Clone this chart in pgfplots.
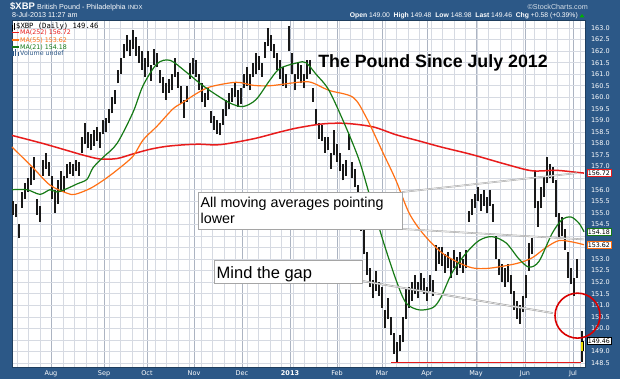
\documentclass[border=0pt]{standalone}
\usepackage{pgfplots}
\pgfplotsset{compat=1.18}
\usepackage{pgfplotstable}
\usepackage{fontspec}
\setmainfont{Liberation Sans}
\newfontfamily\djfont{DejaVu Sans}
\newfontfamily\djmono{DejaVu Sans Mono}
\definecolor{frame}{RGB}{44,88,135}
\definecolor{ma252}{RGB}{232,28,28}
\definecolor{ma55}{RGB}{255,112,20}
\definecolor{ma21}{RGB}{22,122,22}
\definecolor{wgrid}{RGB}{214,218,226}
\definecolor{mgrid}{RGB}{172,180,194}
\definecolor{callout}{RGB}{165,165,165}

\pgfplotstableread{
x lo hi
13 154.9 155.5
16 154.8 155.4
19 153.9 154.5
22 155.2 155.9
25 155.6 156.3
28 155.9 156.5
31 156.2 157.0
34 156.4 157.4
37 154.9 155.6
40 154.6 155.3
43 156.6 157.3
46 156.9 157.6
49 156.6 157.2
52 155.6 156.6
55 155.0 156.0
58 155.4 156.4
61 155.9 156.8
64 155.9 156.6
67 156.5 157.1
70 156.7 157.2
73 156.6 157.1
76 156.8 157.3
79 156.6 157.2
82 157.6 158.3
85 158.0 158.9
88 157.8 158.5
91 157.7 158.4
94 157.9 158.6
97 158.1 158.7
100 157.8 158.5
103 158.4 159.0
106 158.5 159.1
109 158.9 159.5
112 159.3 160.0
115 159.7 160.3
118 160.6 161.2
121 161.0 161.7
124 161.7 162.3
127 162.0 162.7
130 161.8 162.5
133 162.1 162.9
136 161.8 162.6
139 161.5 162.2
142 161.2 162.0
145 160.9 161.7
148 161.3 162.0
151 160.7 161.4
154 161.4 162.1
157 161.3 161.9
160 160.6 161.2
163 160.2 160.9
166 159.9 160.6
169 160.2 160.8
172 160.3 161.0
175 160.9 161.7
178 160.4 161.1
181 159.7 160.5
184 159.1 159.9
187 159.8 160.5
190 160.8 161.5
193 161.0 161.7
196 160.9 161.6
199 160.3 161.0
202 159.8 160.6
205 159.6 160.2
208 159.9 160.4
211 158.9 159.4
214 158.6 159.2
217 158.4 159.0
220 158.35 158.9
223 158.8 159.5
226 159.2 159.9
229 159.5 160.2
232 159.8 160.4
235 160.0 160.6
238 159.6 160.3
241 159.7 160.4
244 160.4 161.0
247 160.5 161.3
250 160.3 161.0
253 160.9 161.5
256 161.0 161.9
259 161.2 161.8
262 160.9 161.5
265 161.7 162.4
268 162.2 163.0
271 162.0 162.7
274 161.7 162.3
277 161.2 161.9
280 160.8 161.6
283 160.5 161.3
286 160.4 161.0
289 162.0 163.1
292 161.0 161.9
295 160.3 161.0
298 160.8 161.5
301 160.6 161.4
304 160.4 161.0
307 160.8 161.6
310 161.0 161.6
313 159.8 160.4
316 158.8 159.5
319 158.2 158.9
322 158.1 158.8
325 157.6 158.3
328 157.7 158.3
331 156.9 157.6
334 157.5 158.6
337 157.2 158.0
340 156.8 157.6
343 156.4 157.1
346 156.6 157.3
349 157.7 158.4
352 156.5 157.2
355 156.1 156.9
358 155.3 156.2
361 154.2 155.0
364 153.2 154.3
367 152.3 153.3
370 151.8 152.6
373 151.3 152.1
376 151.6 152.5
379 151.4 152.0
382 150.9 151.8
385 150.0 150.8
388 150.4 151.3
391 149.7 150.5
394 148.9 149.8
397 148.55 149.4
400 149.0 149.7
403 149.4 150.5
406 150.4 151.7
409 150.9 151.8
412 151.2 152.0
415 151.5 152.3
418 151.3 152.0
421 151.6 152.4
424 151.5 152.2
427 151.2 151.8
430 151.6 152.3
433 151.4 152.1
436 152.5 153.6
439 152.8 153.5
442 152.7 153.5
445 152.4 153.2
448 152.6 153.3
451 152.2 153.0
454 152.6 153.4
457 152.3 153.1
460 152.6 153.3
463 152.4 153.0
466 152.6 153.4
469 154.6 155.1
472 154.9 155.6
475 155.2 155.8
478 155.5 156.1
481 155.1 155.8
484 155.3 156.0
487 155.0 155.7
490 155.3 156.0
493 154.6 155.4
496 153.0 154.0
499 152.3 153.0
502 152.0 152.8
505 151.8 152.6
508 152.0 152.8
511 151.5 152.3
514 150.8 151.6
517 150.4 151.2
520 150.2 151.0
523 150.7 151.4
526 151.3 152.3
529 152.5 153.7
532 153.2 153.9
535 155.2 156.8
538 154.4 155.5
541 155.2 156.1
544 155.7 156.6
547 156.3 157.4
550 156.5 157.1
553 156.3 157.0
556 154.8 156.4
559 153.9 155.0
562 154.0 154.8
565 153.4 154.3
568 152.2 153.3
571 151.9 152.6
574 151.4 152.2
577 152.2 153.0
582 148.55 149.9
}\bars

\begin{document}
\begin{tikzpicture}
\path[use as bounding box] (0pt,0pt) rectangle (620pt,379pt);
\fill[frame] (0pt,0pt) rectangle (620pt,379pt);
\begin{axis}[
  at={(12pt,12pt)}, anchor=south west,
  width=573pt, height=347pt, scale only axis,
  xmin=12, xmax=585, ymin=148.327, ymax=163.346,
  axis background/.style={fill=white},
  clip=false,
  axis line style={draw=frame!70!black, line width=0.4pt},
  xtick={51,104,147,194,242,290,337,382,427,476,525,573},
  xticklabels={Aug,Sep,Oct,Nov,Dec,\textbf{2013},Feb,Mar,Apr,May,Jun,Jul},
  minor xtick={17,28.5,...,585},
  ytick={148.5,149,...,163},
  yticklabels={148.5,149.0,,150.0,150.5,151.0,151.5,152.0,152.5,153.0,,,154.5,155.0,155.5,156.0,,157.0,157.5,158.0,158.5,159.0,159.5,160.0,160.5,161.0,161.5,162.0,162.5,163.0},
  minor ytick={148.5,149,...,163},
  yticklabel pos=right,
  xmajorgrids, xminorgrids, yminorgrids, ymajorgrids=false,
  major grid style={mgrid, line width=0.5pt},
  minor grid style={wgrid, line width=0.5pt},
  major tick length=0pt, minor tick length=0pt,
  ticklabel style={font=\djfont\fontsize{6.5}{7}\selectfont, text=white},
  y tick label style={anchor=west, xshift=2.5pt},
  xticklabel style={anchor=base, yshift=-8.5pt},
]
% price bars
\addplot[draw=none, mark=none,
  error bars/.cd, y dir=plus, y explicit, error mark=none,
  error bar style={draw=black!90, line width=1.3pt}]
  table[x=x, y=lo, y error expr=\thisrow{hi}-\thisrow{lo}] {\bars};
% last candle body
\addplot[black, line width=3.4pt] coordinates {(582.3,149.00)(582.3,149.46)};
\addplot[yellow!80!olive, line width=2.2pt] coordinates {(582.3,149.03)(582.3,149.43)};
% MA 252
\addplot[ma252, line width=1.5pt, smooth] coordinates {
(12,158.35)(43,158.0)(67,157.7)(83,157.5)(100,157.33)(117,157.35)(133,157.55)(150,157.75)(167,157.88)(186,157.95)(200,157.97)(220,157.95)(253,158.2)(280,158.5)(298,158.68)(323,158.85)(346,158.87)(373,158.72)(396,158.38)(420,158.1)(441,157.85)(472,157.52)(506,157.1)(532,156.82)(556,156.84)(575,156.76)(584,156.72)};
% MA 55
\addplot[ma55, line width=1.2pt, smooth] coordinates {
(12,157.85)(33,156.95)(50,156.2)(67,155.85)(75,155.8)(90,156.05)(103,156.4)(117,156.85)(133,157.45)(143,158.15)(157,158.75)(173,159.5)(183,159.78)(196,160.15)(210,160.45)(236,160.65)(253,160.52)(270,160.5)(298,160.65)(311,160.65)(329,160.3)(353,160.0)(366,159.15)(383,157.6)(396,156.4)(409,155.0)(423,154.1)(441,153.3)(456,152.9)(472,152.62)(489,152.6)(516,152.8)(532,153.05)(546,153.5)(559,153.8)(572,153.74)(584,153.62)};
% MA 21
\addplot[ma21, line width=1.2pt, smooth] coordinates {
(12,156.0)(27,156.0)(40,155.8)(50,156.0)(57,155.9)(67,156.05)(77,156.25)(87,156.45)(93,156.95)(103,157.4)(117,158.0)(133,159.35)(143,160.5)(157,161.45)(170,161.6)(186,161.1)(200,160.6)(213,160.2)(230,159.75)(243,159.6)(256,159.9)(270,160.75)(280,161.25)(298,161.5)(306,161.5)(316,161.0)(329,160.3)(346,158.7)(359,157.3)(369,155.85)(383,153.8)(396,152.1)(406,151.1)(419,150.8)(433,150.9)(441,151.35)(452,152.4)(466,153.25)(479,153.8)(492,153.97)(506,153.7)(519,153.0)(529,152.65)(539,152.9)(552,154.1)(562,154.7)(571,154.82)(579,154.55)(584,154.18)};
% support line
\addplot[ma252, line width=1.4pt] coordinates {(391,148.52)(581,148.52)};

% legend
\draw[black, line width=0.8pt] (axis cs:12.5,162.85) -- (axis cs:12.5,163.15);
\draw[black, line width=0.8pt] (axis cs:14.5,162.9) -- (axis cs:14.5,163.2);
\node[anchor=base west, inner sep=0, font=\djmono\fontsize{7.2}{8}\selectfont] at (axis cs:16,162.98) {\$XBP (Daily) 149.46};
\draw[ma252, line width=1.2pt] (axis cs:12,162.79) -- (axis cs:18.5,162.79);
\node[anchor=base west, inner sep=0, text=ma252, font=\djfont\fontsize{6.3}{7}\selectfont] at (axis cs:20,162.70) {MA(252) 156.72};
\draw[ma55, line width=1.2pt] (axis cs:12,162.48) -- (axis cs:18.5,162.48);
\node[anchor=base west, inner sep=0, text=ma55, font=\djfont\fontsize{6.3}{7}\selectfont] at (axis cs:20,162.39) {MA(55) 153.62};
\draw[ma21, line width=1.2pt] (axis cs:12,162.18) -- (axis cs:18.5,162.18);
\node[anchor=base west, inner sep=0, text=ma21, font=\djfont\fontsize{6.3}{7}\selectfont] at (axis cs:20,162.09) {MA(21) 154.18};
\fill[frame] (axis cs:12.5,161.8) rectangle (axis cs:14,162.0);
\fill[frame] (axis cs:15,161.8) rectangle (axis cs:16.5,162.1);
\fill[frame] (axis cs:17.5,161.8) rectangle (axis cs:19,161.95);
\node[anchor=base west, inner sep=0, text=frame, font=\djfont\fontsize{6.3}{7}\selectfont] at (axis cs:20,161.79) {Volume undef};

% title
\node[anchor=base, inner sep=0, font=\bfseries\fontsize{17.8}{20}\selectfont] at (axis cs:433,161.31) {The Pound Since July 2012};

% callout 1
\draw[callout, line width=1.6pt] (axis cs:402,155.90) -- (axis cs:577,156.72);
\draw[callout, line width=1.6pt] (axis cs:402,154.30) -- (axis cs:584,153.85);
\draw[white, line width=0.5pt] (axis cs:402,155.90) -- (axis cs:577,156.72);
\draw[white, line width=0.5pt] (axis cs:402,154.30) -- (axis cs:584,153.85);
\draw[fill=white, draw=callout, line width=0.9pt] (axis cs:198,155.90) rectangle (axis cs:402,154.26);
\node[anchor=base west, inner sep=0, font=\fontsize{14.3}{16}\selectfont] at (axis cs:200.5,155.24) {All moving averages pointing};
\node[anchor=base west, inner sep=0, font=\fontsize{14.3}{16}\selectfont] at (axis cs:200.5,154.55) {lower};

% callout 2
\draw[callout, line width=1.8pt] (axis cs:362,152.05) -- (axis cs:553,150.66);
\draw[white, line width=0.5pt] (axis cs:362,152.05) -- (axis cs:553,150.66);
\draw[fill=white, draw=callout, line width=0.9pt] (axis cs:214,152.96) rectangle (axis cs:362,151.96);
\node[anchor=base west, inner sep=0, font=\fontsize{16.5}{18}\selectfont] at (axis cs:216.5,152.16) {Mind the gap};

% red circle
\draw[red!85!black, line width=1.6pt] (axis cs:577.5,150.55) circle[radius=22.5pt];

% value tags
\node[anchor=west, fill=white, draw=ma252, line width=0.7pt, inner sep=1pt, font=\djfont\fontsize{6.3}{7}\selectfont] at (axis cs:586.5,156.72) {156.72};
\node[anchor=west, fill=white, draw=ma21, line width=0.7pt, inner sep=1pt, font=\djfont\fontsize{6.3}{7}\selectfont] at (axis cs:586.5,154.18) {154.18};
\node[anchor=west, fill=white, draw=ma55, line width=0.7pt, inner sep=1pt, font=\djfont\fontsize{6.3}{7}\selectfont] at (axis cs:586.5,153.62) {153.62};
\node[anchor=west, fill=white, draw=black, line width=0.7pt, inner sep=1pt, font=\djfont\fontsize{6.3}{7}\selectfont] at (axis cs:586.5,149.46) {149.46};
\end{axis}

% header
\node[anchor=base west, inner sep=0, text=white, font=\bfseries\fontsize{9.5}{10}\selectfont] at (10pt,369pt) {\$XBP};
\node[anchor=base west, inner sep=0, text=white, font=\fontsize{7.2}{8}\selectfont] at (37pt,369pt) {British Pound - Philadelphia};
\node[anchor=base west, inner sep=0, text=white, font=\fontsize{6}{7}\selectfont] at (128pt,369pt) {INDX};
\node[anchor=base west, inner sep=0, text=white, font=\fontsize{7.2}{8}\selectfont] at (12pt,361.3pt) {8-Jul-2013 11:27 am};
\node[anchor=base east, inner sep=0, text=white!80!frame, font=\fontsize{7.2}{8}\selectfont] at (588pt,369.5pt) {\textcopyright StockCharts.com};
\node[anchor=base east, inner sep=0, text=white, font=\fontsize{6.8}{8}\selectfont] at (578pt,361.3pt) {\textbf{Open} 149.00 \ \textbf{High} 149.48 \ \textbf{Low} 148.98 \ \textbf{Last} 149.46 \ \textbf{Chg} +0.58 (+0.39\%)};
\fill[green!70!black] (579.5pt,361.5pt) -- (584.5pt,361.5pt) -- (582pt,365pt) -- cycle;
\end{tikzpicture}
\end{document}
